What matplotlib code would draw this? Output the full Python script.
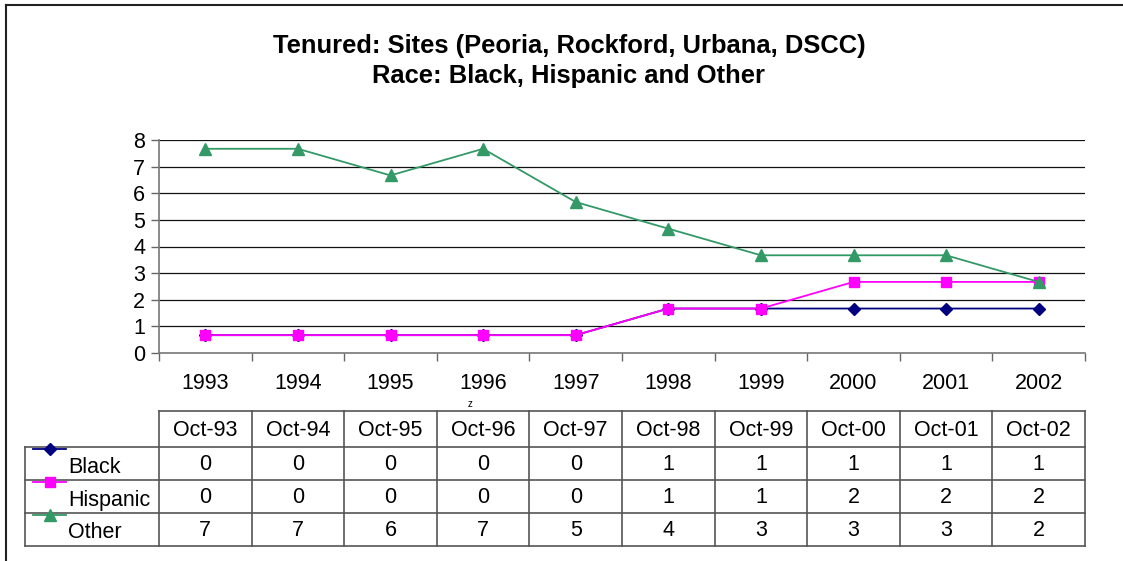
import matplotlib
matplotlib.use("Agg")
import matplotlib.pyplot as plt
from matplotlib.lines import Line2D

plt.rcParams['font.family'] = ['Liberation Sans', 'DejaVu Sans']

W, H = 1123, 561
DPI = 100

years = ["1993", "1994", "1995", "1996", "1997", "1998", "1999", "2000", "2001", "2002"]
months = ["Oct-93", "Oct-94", "Oct-95", "Oct-96", "Oct-97", "Oct-98", "Oct-99", "Oct-00", "Oct-01", "Oct-02"]

# values as plotted
black = [0.67, 0.67, 0.67, 0.67, 0.67, 1.67, 1.67, 1.67, 1.67, 1.67]
hispanic = [0.67, 0.67, 0.67, 0.67, 0.67, 1.67, 1.67, 2.67, 2.67, 2.67]
other = [7.67, 7.67, 6.67, 7.67, 5.67, 4.67, 3.67, 3.67, 3.67, 2.67]

# values as printed in the data table
black_tbl = [0, 0, 0, 0, 0, 1, 1, 1, 1, 1]
hispanic_tbl = [0, 0, 0, 0, 0, 1, 1, 2, 2, 2]
other_tbl = [7, 7, 6, 7, 5, 4, 3, 3, 3, 2]

series = [
    ("Black", black, black_tbl, "#000080", "D", 6),
    ("Hispanic", hispanic, hispanic_tbl, "#FF00FF", "s", 7),
    ("Other", other, other_tbl, "#339966", "^", 8),
]

FS = 15.5  # pt, ~21.5 px

fig = plt.figure(figsize=(W / DPI, H / DPI), dpi=DPI)

# overlay axes in pixel coordinates for border, title, table
ov = fig.add_axes([0, 0, 1, 1])
ov.set_xlim(0, W)
ov.set_ylim(H, 0)
ov.axis("off")

# outer chart border (top and left visible)
ov.plot([6, W + 5], [5, 5], color="#222222", lw=1.5)
ov.plot([6, 6], [5, H + 5], color="#222222", lw=1.5)

ov.text(569, 46, "Tenured: Sites (Peoria, Rockford, Urbana, DSCC)", ha="center", va="center",
        fontsize=18.4, fontweight="bold")
ov.text(569, 76, "Race: Black, Hispanic and Other", ha="center", va="center",
        fontsize=18.4, fontweight="bold")

# plot area
L, R, T, B = 159, 1085, 140, 353
ax = fig.add_axes([L / W, 1 - B / H, (R - L) / W, (B - T) / H])
x = list(range(len(years)))
for name, vals, _, col, mk, ms in series:
    ax.plot(x, vals, color=col, marker=mk, markersize=ms, lw=1.3, zorder=3)

ax.set_xlim(-0.5, len(years) - 0.5)
ax.set_ylim(0, 8)
ax.set_yticks(range(0, 9))
ax.tick_params(axis="y", labelsize=FS, length=6, width=1, color="#666666", pad=4)
ax.set_xticks([i - 0.5 for i in range(len(years) + 1)])
ax.set_xticklabels([])
ax.tick_params(axis="x", length=6, width=1, color="#666666", direction="out")
for yv in range(1, 9):
    ax.axhline(yv, color="#111111", lw=0.9, zorder=1)
for s in ["top", "right"]:
    ax.spines[s].set_visible(False)
ax.spines["left"].set_color("#777777")
ax.spines["bottom"].set_color("#777777")
ax.spines["left"].set_linewidth(1.2)
ax.spines["bottom"].set_linewidth(1.2)

colw = (R - L) / len(years)
for i, yr in enumerate(years):
    ov.text(L + colw * (i + 0.5), 383, yr, ha="center", va="center", fontsize=FS)

ov.text(470, 404, "z", ha="center", va="center", fontsize=7)

# data table
tc = "#555555"
head_top, row_top, rowh = 411, 447, 33
n_rows = len(series)
tbl_bot = row_top + rowh * n_rows
lab_left = 25
# header row box
ov.plot([L, R], [head_top, head_top], color=tc, lw=1.2)
for i in range(len(years) + 1):
    xx = L + colw * i
    ov.plot([xx, xx], [head_top, tbl_bot], color=tc, lw=1.2)
for i, m in enumerate(months):
    ov.text(L + colw * (i + 0.5), (head_top + row_top) / 2 + 1, m, ha="center", va="center", fontsize=FS)
# body rows
for r in range(n_rows + 1):
    yy = row_top + rowh * r
    ov.plot([lab_left, R], [yy, yy], color=tc, lw=1.2)
ov.plot([lab_left, lab_left], [row_top, tbl_bot], color=tc, lw=1.2)
for r, (name, vals, tbl, col, mk, ms) in enumerate(series):
    ytop = row_top + rowh * r
    ov.add_line(Line2D([33, 66], [ytop + 2, ytop + 2], color=col, lw=1.3, marker=None))
    ov.plot([49.5], [ytop + 2], color=col, marker=mk, markersize=ms)
    ov.text(68, ytop + 20, name, ha="left", va="center", fontsize=FS)
    for i, v in enumerate(tbl):
        ov.text(L + colw * (i + 0.5), ytop + rowh / 2 + 1, str(v), ha="center", va="center", fontsize=FS)

fig.savefig("out.png", dpi=DPI)
